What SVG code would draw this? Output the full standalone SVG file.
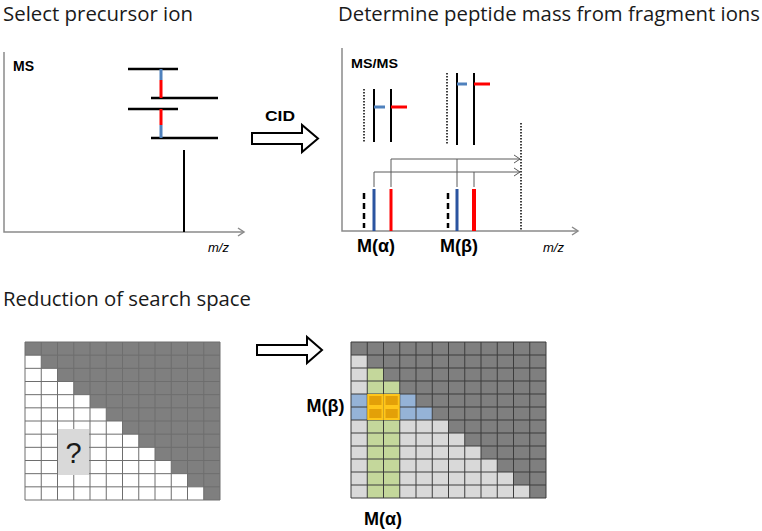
<svg xmlns="http://www.w3.org/2000/svg" width="762" height="531" viewBox="0 0 762 531">
<style>
.title{font-family:"Open Sans","Noto Sans",sans-serif;font-size:20px;fill:#1a1a1a}
.bold{font-family:"Liberation Sans",Arial,sans-serif;font-weight:bold;fill:#000}
.mz{font-family:"Liberation Sans",Arial,sans-serif;font-style:italic;font-size:13px;fill:#000}
.axis{stroke:#8a8a8a;stroke-width:1.5;fill:none}
.bar{stroke:#000;stroke-width:2.5;fill:none}
.frag{stroke:#000;stroke-width:2;fill:none}
.dot{stroke:#000;stroke-width:1.5;stroke-dasharray:1.5 1.5;fill:none}
.blue{stroke:#4f81bd;stroke-width:3;fill:none}
.red{stroke:#ff0000;stroke-width:3;fill:none}
.conn{stroke:#5a5a5a;stroke-width:1;fill:none}
.block{fill:#fff;stroke:#000;stroke-width:2;stroke-linejoin:miter}
.gl{stroke:#6e6e6e;stroke-width:1;fill:none}
.gr{stroke:#3c3c3c;stroke-width:1;fill:none}
</style>
<defs>
<polygon id="stair" points="0,0 12,0 12,12 11,12 11,11 10,11 10,10 9,10 9,9 8,9 8,8 7,8 7,7 6,7 6,6 5,6 5,5 4,5 4,4 3,4 3,3 2,3 2,2 1,2 1,1 0,1"/>
</defs>

<rect width="762" height="531" fill="#fff"/>

<!-- Titles -->
<text class="title" x="3" y="21" textLength="190" lengthAdjust="spacingAndGlyphs">Select precursor ion</text>
<text class="title" x="338" y="21" textLength="422" lengthAdjust="spacingAndGlyphs">Determine peptide mass from fragment ions</text>
<text class="title" x="3" y="306" textLength="248" lengthAdjust="spacingAndGlyphs">Reduction of search space</text>

<!-- MS panel -->
<g id="ms-panel">
  <path class="axis" d="M4,52V232H244"/>
  <path class="axis" d="M238,228L244,232L238,236"/>
  <text class="bold" x="13" y="71" font-size="14">MS</text>
  <path class="bar" d="M128,69H178M151,98H218M128,109H178M151,138H218"/>
  <path class="blue" stroke-width="2.5" d="M161,69V80M161,125V138"/>
  <path class="red" stroke-width="2.5" d="M161,80V98M161,109V125"/>
  <path class="frag" d="M184,150V232"/>
  <text class="mz" x="208" y="252">m/z</text>
</g>

<!-- CID arrow -->
<g id="cid-arrow">
  <polygon class="block" points="252,133 302,133 302,125 318,138.5 302,152 302,144 252,144"/>
  <text class="bold" x="265" y="121" font-size="14" textLength="30" lengthAdjust="spacingAndGlyphs">CID</text>
</g>

<!-- MS/MS panel -->
<g id="msms-panel">
  <path class="axis" d="M342,48V231H578"/>
  <path class="axis" d="M572,227L578,231L572,235"/>
  <text class="bold" x="351" y="68" font-size="13" textLength="47" lengthAdjust="spacingAndGlyphs">MS/MS</text>
  <path class="dot" d="M364,89V142"/>
  <path class="frag" d="M374,89V142M391,89V142"/>
  <path class="blue" d="M374,107H385"/>
  <path class="red" d="M391,107H407"/>
  <path class="dot" d="M447,73V145"/>
  <path class="frag" d="M457,73V145M474,73V145"/>
  <path class="blue" d="M457,84H467"/>
  <path class="red" d="M474,84H490"/>
  <path class="dot" d="M521,123V231"/>
  <path d="M364,193V228M448,193V228" stroke="#000" stroke-width="2.5" stroke-dasharray="6 4" fill="none"/>
  <path d="M374,189V231M457,189V231" stroke="#2b54a0" stroke-width="3" fill="none"/>
  <path d="M391,189V231" stroke="#ff0000" stroke-width="3" fill="none"/>
  <path d="M474,189V231" stroke="#ff0000" stroke-width="4" fill="none"/>
  <text class="bold" x="376" y="252" font-size="18" text-anchor="middle">M(α)</text>
  <text class="bold" x="459" y="252" font-size="18" text-anchor="middle">M(β)</text>
  <text class="mz" x="543" y="252">m/z</text>
</g>

<g id="connectors">
  <path class="conn" d="M391,187V159H520M457,187V159"/>
  <path class="conn" d="M374,187V172H520M474,187V172"/>
  <path class="conn" d="M514,155L520,159L514,163M514,168L520,172L514,176"/>
</g>

<!-- Left grid -->
<g id="grid-left">
  <g transform="translate(25,342) scale(16.25,13.1667)">
    <rect width="12" height="12" fill="#fff"/>
    <use href="#stair" fill="#7f7f7f"/>
  </g>
  <path class="gl" d="M25,342H220M25,355.17H220M25,368.33H220M25,381.5H220M25,394.67H220M25,407.83H220M25,421H220M25,434.17H220M25,447.33H220M25,460.5H220M25,473.67H220M25,486.83H220M25,500H220M25,342V500M41.25,342V500M57.5,342V500M73.75,342V500M90,342V500M106.25,342V500M122.5,342V500M138.75,342V500M155,342V500M171.25,342V500M187.5,342V500M203.75,342V500M220,342V500"/>
  <rect x="58" y="429" width="31" height="46" fill="#d9d9d9"/>
  <text x="73.5" y="463" font-family="Liberation Sans, Arial, sans-serif" font-size="29" text-anchor="middle" fill="#1a1a1a">?</text>
</g>

<!-- Bottom arrow -->
<g id="reduce-arrow">
  <polygon class="block" points="257,345 307,345 307,337 322,350 307,363 307,355 257,355"/>
</g>

<!-- Right grid -->
<g id="grid-right">
  <g transform="translate(351,342) scale(16.25,13)">
    <rect width="12" height="12" fill="#d9d9d9"/>
    <use href="#stair" fill="#7f7f7f"/>
    <rect x="1" y="2" width="1" height="10" fill="#c4d79b"/>
    <rect x="2" y="3" width="1" height="9" fill="#c4d79b"/>
    <rect x="0" y="4" width="4" height="1" fill="#95b3d7"/>
    <rect x="0" y="5" width="5" height="1" fill="#95b3d7"/>
  </g>
  <path class="gr" d="M351,342H546M351,355H546M351,368H546M351,381H546M351,394H546M351,407H546M351,420H546M351,433H546M351,446H546M351,459H546M351,472H546M351,485H546M351,498H546M351,342V498M367.25,342V498M383.5,342V498M399.75,342V498M416,342V498M432.25,342V498M448.5,342V498M464.75,342V498M481,342V498M497.25,342V498M513.5,342V498M529.75,342V498M546,342V498"/>
  <g fill="#e3a008" stroke="#ffc61a" stroke-width="2">
    <rect x="368.25" y="395" width="14.25" height="11"/>
    <rect x="384.5" y="395" width="14.25" height="11"/>
    <rect x="368.25" y="408" width="14.25" height="11"/>
    <rect x="384.5" y="408" width="14.25" height="11"/>
  </g>
  <text class="bold" x="325.5" y="412" font-size="18" text-anchor="middle">M(β)</text>
  <text class="bold" x="383" y="525" font-size="18" text-anchor="middle">M(α)</text>
</g>
</svg>
